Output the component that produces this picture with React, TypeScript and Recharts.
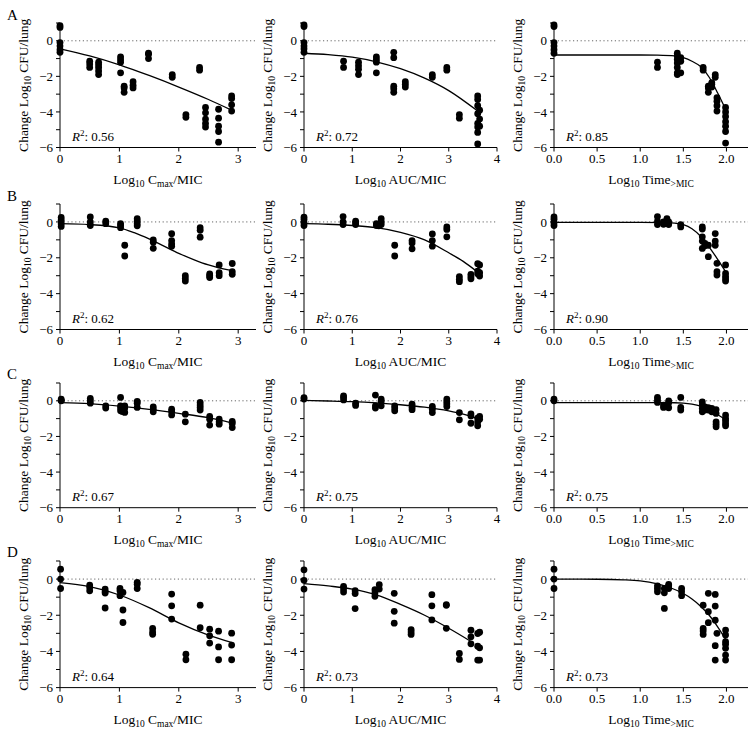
import {
    ComposedChart,
    Customized,
    Line,
    ReferenceLine,
    Scatter,
    XAxis,
    YAxis,
} from "recharts";

type Group = [number, number[]];
type Fit = [number, number][];

// ---- row A ----
const aCmaxDots: Group[] = [
    [0, [0.85, 0.75, -0.1, -0.3, -0.5, -0.65]],
    [0.5, [-1.15, -1.3, -1.5]],
    [0.65, [-1.2, -1.35, -1.5, -1.7, -1.9]],
    [1.02, [-0.9, -1.05, -1.2, -1.8]],
    [1.08, [-2.55, -2.65, -2.9]],
    [1.23, [-2.3, -2.5, -2.65]],
    [1.49, [-0.7, -0.75, -1.0]],
    [1.89, [-1.9, -2.05]],
    [2.12, [-4.15, -4.3]],
    [2.35, [-1.5, -1.65]],
    [2.45, [-3.75, -4.05, -4.4, -4.65, -4.85]],
    [2.67, [-3.85, -4.35, -4.8, -5.1, -5.7]],
    [2.89, [-3.1, -3.25, -3.6, -3.95]],
];
const aCmaxFit: Fit = [[0, -0.45], [0.5, -0.85], [1, -1.35], [1.5, -1.95], [2, -2.6], [2.5, -3.3], [2.89, -3.9]];

const aAucDots: Group[] = [
    [0, [0.9, 0.8, -0.1, -0.3, -0.45, -0.65]],
    [0.82, [-1.15, -1.5]],
    [1.13, [-1.2, -1.4, -1.6, -1.9]],
    [1.5, [-0.9, -1.05, -1.2, -1.8]],
    [1.86, [-0.65, -0.95, -2.55, -2.7, -2.9]],
    [2.1, [-2.3, -2.45, -2.6]],
    [2.66, [-1.9, -2.05]],
    [2.96, [-1.5, -1.65]],
    [3.22, [-4.15, -4.35]],
    [3.6, [-3.1, -3.3, -3.65, -4.1, -4.65, -4.85, -5.15, -5.8]],
    [3.64, [-3.9, -4.4, -4.8]],
];
const aAucFit: Fit = [[0, -0.7], [0.5, -0.78], [1, -0.92], [1.5, -1.18], [2, -1.57], [2.5, -2.1], [3, -2.8], [3.6, -3.95]];

const aTimeDots: Group[] = [
    [0, [0.9, 0.8, -0.1, -0.3, -0.5, -0.7]],
    [1.2, [-1.2, -1.5]],
    [1.43, [-0.7, -0.85, -1.05, -1.25, -1.5, -1.8, -1.9]],
    [1.47, [-0.95, -1.15, -1.8]],
    [1.73, [-1.5, -1.65]],
    [1.79, [-2.55, -2.65, -2.9]],
    [1.83, [-2.35, -2.45, -2.6]],
    [1.87, [-1.9, -2.05]],
    [1.89, [-3.2, -3.4, -3.65, -3.95]],
    [1.99, [-3.75, -4.0, -4.25, -4.55, -4.8, -5.1, -5.75]],
];
const aTimeFit: Fit = [[0, -0.8], [0.5, -0.8], [1, -0.8], [1.2, -0.81], [1.4, -0.85], [1.5, -0.95], [1.6, -1.15], [1.7, -1.45], [1.8, -2.05], [1.9, -2.95], [2.0, -3.95]];

// ---- row B ----
const bCmaxDots: Group[] = [
    [0.02, [0.25, 0.1, -0.1, -0.25]],
    [0.51, [0.28, 0, -0.2]],
    [0.77, [0.05, -0.1]],
    [1.02, [-0.1, -0.2, -0.32]],
    [1.09, [-1.3, -1.9]],
    [1.3, [0.18, 0.05, -0.1, -0.22]],
    [1.57, [-1.0, -1.13, -1.47]],
    [1.88, [-0.66, -1.04, -1.23, -1.36]],
    [2.11, [-3.0, -3.15, -3.3]],
    [2.36, [-0.32, -0.47, -0.85]],
    [2.52, [-2.9, -3.0, -3.1]],
    [2.68, [-2.4, -2.83, -3.0]],
    [2.9, [-2.32, -2.77, -2.92]],
];
const bCmaxFit: Fit = [[0, -0.1], [0.5, -0.15], [1, -0.33], [1.25, -0.6], [1.5, -0.95], [1.75, -1.35], [2, -1.75], [2.25, -2.1], [2.5, -2.4], [2.75, -2.62], [2.9, -2.72]];

const bAucDots: Group[] = [
    [0, [0.26, 0.13, -0.05, -0.2]],
    [0.81, [0.3, 0, -0.15]],
    [1.07, [0.04, -0.05, -0.15]],
    [1.5, [-0.1, -0.2]],
    [1.55, [-0.15, -0.22]],
    [1.6, [0.18, 0, -0.15]],
    [1.88, [-1.3, -1.9]],
    [2.24, [-1.04, -1.17, -1.5]],
    [2.66, [-0.67, -1.04, -1.35]],
    [2.96, [-0.28, -0.42, -0.83]],
    [3.22, [-3.05, -3.2, -3.33]],
    [3.46, [-2.92, -3.05, -3.17]],
    [3.6, [-2.33, -2.74, -2.89]],
    [3.64, [-2.4, -2.83, -3.02]],
];
const bAucFit: Fit = [[0, -0.1], [0.5, -0.13], [1, -0.2], [1.5, -0.32], [2, -0.58], [2.5, -1.0], [3, -1.72], [3.3, -2.2], [3.6, -2.8]];

const bTimeDots: Group[] = [
    [0, [0.28, 0.15, -0.04, -0.2]],
    [1.2, [0.3, 0.04, -0.15]],
    [1.27, [0, -0.13]],
    [1.31, [0.18, 0.04, -0.1]],
    [1.33, [0, -0.15]],
    [1.47, [-0.15, -0.28]],
    [1.72, [-0.28, -0.4, -0.83, -1.07, -1.48]],
    [1.75, [-1.2, -1.33]],
    [1.79, [-1.3, -1.94]],
    [1.87, [-0.65, -1.07, -1.3]],
    [1.89, [-2.31, -2.78, -2.96]],
    [1.99, [-2.4, -2.87, -3.05, -3.18, -3.3]],
];
const bTimeFit: Fit = [[0, -0.02], [1, -0.02], [1.3, -0.04], [1.4, -0.07], [1.5, -0.15], [1.6, -0.38], [1.7, -0.8], [1.8, -1.4], [1.9, -2.1], [2.0, -2.85]];

// ---- row C ----
const cCmaxDots: Group[] = [
    [0.02, [0.1, 0.03, 0]],
    [0.51, [0.13, 0, -0.13]],
    [0.77, [-0.28, -0.41]],
    [1.02, [0.19, -0.28, -0.41, -0.56]],
    [1.05, [-0.47, -0.6]],
    [1.09, [-0.28, -0.41, -0.65]],
    [1.3, [-0.04, -0.13, -0.37]],
    [1.57, [-0.34, -0.47, -0.62]],
    [1.88, [-0.47, -0.6, -0.79]],
    [2.11, [-0.75, -1.18]],
    [2.36, [-0.09, -0.24, -0.37, -0.52]],
    [2.52, [-0.88, -1.03, -1.36]],
    [2.68, [-1.03, -1.18, -1.31]],
    [2.9, [-1.16, -1.27, -1.5]],
];
const cCmaxFit: Fit = [[0, -0.1], [0.5, -0.16], [1, -0.3], [1.5, -0.48], [2, -0.7], [2.5, -0.95], [2.9, -1.25]];

const cAucDots: Group[] = [
    [0, [0.18, 0.1]],
    [0.82, [0.28, 0.18, 0.05]],
    [1.07, [-0.13, -0.26]],
    [1.48, [0.32, -0.28, -0.41]],
    [1.6, [0.1, -0.04, -0.28]],
    [1.88, [-0.28, -0.41, -0.56]],
    [2.24, [-0.19, -0.36, -0.5]],
    [2.66, [-0.32, -0.47, -0.66]],
    [2.96, [0.1, -0.04, -0.17, -0.32]],
    [3.22, [-0.66, -1.07]],
    [3.46, [-0.73, -0.85, -1.26]],
    [3.6, [-0.98, -1.17, -1.4]],
    [3.64, [-0.88, -1.04]],
];
const cAucFit: Fit = [[0, 0.02], [0.5, -0.01], [1, -0.05], [1.5, -0.12], [2, -0.22], [2.5, -0.36], [3, -0.57], [3.3, -0.75], [3.6, -1.0]];

const cTimeDots: Group[] = [
    [0, [0.1, 0]],
    [1.2, [0.19, 0.04, -0.09]],
    [1.27, [-0.24, -0.37]],
    [1.31, [-0.24, -0.34]],
    [1.33, [0, -0.11, -0.39]],
    [1.47, [0.19, -0.37, -0.52]],
    [1.72, [-0.06, -0.24, -0.43, -0.62]],
    [1.75, [-0.34, -0.52]],
    [1.79, [-0.39, -0.52]],
    [1.83, [-0.43, -0.62]],
    [1.88, [-0.49, -0.71, -1.18, -1.31, -1.46]],
    [1.99, [-0.8, -0.99, -1.12, -1.27, -1.4]],
];
const cTimeFit: Fit = [[0, -0.1], [1, -0.1], [1.4, -0.11], [1.5, -0.13], [1.6, -0.19], [1.7, -0.3], [1.8, -0.5], [1.9, -0.78], [2.0, -1.1]];

// ---- row D ----
const dCmaxDots: Group[] = [
    [0.01, [0.55, 0, -0.52]],
    [0.5, [-0.33, -0.46, -0.65]],
    [0.76, [-0.55, -0.7, -0.77, -1.6]],
    [1.01, [-0.52, -0.65, -0.92]],
    [1.06, [-0.74, -1.71, -2.4]],
    [1.3, [-0.18, -0.28, -0.52]],
    [1.56, [-2.73, -2.92, -3.05]],
    [1.88, [-0.83, -1.48, -2.21]],
    [2.12, [-4.15, -4.46]],
    [2.36, [-1.44, -2.69]],
    [2.52, [-2.77, -3.14, -3.54]],
    [2.67, [-2.88, -3.75, -4.46]],
    [2.89, [-2.99, -3.65, -4.46]],
];
const dCmaxFit: Fit = [[0, -0.2], [0.5, -0.42], [1, -0.88], [1.5, -1.58], [2, -2.42], [2.5, -3.1], [2.9, -3.52]];

const dAucDots: Group[] = [
    [0, [0.51, -0.07, -0.55]],
    [0.82, [-0.4, -0.55, -0.72]],
    [1.06, [-0.64, -0.8, -1.63]],
    [1.47, [-0.59, -0.77, -0.95]],
    [1.56, [-0.31, -0.55]],
    [1.87, [-0.79, -1.78, -2.44]],
    [2.22, [-2.79, -2.92, -3.06]],
    [2.65, [-0.86, -1.48, -2.26]],
    [2.95, [-1.41, -1.45, -2.72]],
    [3.22, [-4.11, -4.44]],
    [3.46, [-2.83, -3.19, -3.58]],
    [3.6, [-3.01, -3.71, -4.48]],
    [3.64, [-2.94, -3.8, -4.48]],
];
const dAucFit: Fit = [[0, -0.25], [0.5, -0.38], [1, -0.55], [1.5, -0.87], [2, -1.4], [2.5, -2.0], [3, -2.72], [3.46, -3.45]];

const dTimeDots: Group[] = [
    [0, [0.55, 0, -0.52]],
    [1.2, [-0.37, -0.52, -0.7]],
    [1.28, [-0.52, -0.76, -1.62]],
    [1.33, [-0.3, -0.37, -0.52]],
    [1.48, [-0.52, -0.7, -0.92]],
    [1.73, [-1.44, -2.73, -2.87, -3.06]],
    [1.79, [-0.79, -1.8, -2.41]],
    [1.87, [-0.85, -1.49, -2.27, -3.68, -4.48]],
    [1.89, [-3.0]],
    [1.99, [-2.82, -3.09, -3.46, -3.6, -3.83, -4.2, -4.48]],
];
const dTimeFit: Fit = [[0, 0], [0.5, -0.01], [0.8, -0.04], [1, -0.1], [1.2, -0.27], [1.35, -0.48], [1.5, -0.8], [1.6, -1.1], [1.7, -1.5], [1.8, -2.0], [1.9, -2.65], [2.0, -3.4]];

const rowLetters = ["A", "B", "C", "D"];
const r2Values = [
    ["0.56", "0.72", "0.85"],
    ["0.62", "0.76", "0.90"],
    ["0.67", "0.75", "0.75"],
    ["0.64", "0.73", "0.73"],
];
const yTicks = [-6, -5, -4, -3, -2, -1, 0, 1];
const cmaxTicks = [0, 1, 2, 3];
const aucTicks = [0, 1, 2, 3, 4];
const timeTicks = [0, 0.5, 1, 1.5, 2];

const FONT = "'Liberation Serif', 'DejaVu Serif', serif";

// plot-area placement on the page
const COLS = [
    { left: 60, right: 256, domain: [0, 3.3], ticks: cmaxTicks, fmt: (v: number) => String(v), kind: "cmax" },
    { left: 304, right: 497, domain: [0, 4], ticks: aucTicks, fmt: (v: number) => String(v), kind: "auc" },
    { left: 554, right: 748, domain: [0, 2.25], ticks: timeTicks, fmt: (v: number) => v.toFixed(1), kind: "time" },
];
const ROWS = [
    { top: 22.5, bottom: 147 },
    { top: 204, bottom: 329.5 },
    { top: 383, bottom: 507.7 },
    { top: 561, bottom: 687.6 },
];

const grid = [
    [aCmaxDots, aCmaxFit, aAucDots, aAucFit, aTimeDots, aTimeFit],
    [bCmaxDots, bCmaxFit, bAucDots, bAucFit, bTimeDots, bTimeFit],
    [cCmaxDots, cCmaxFit, cAucDots, cAucFit, cTimeDots, cTimeFit],
    [dCmaxDots, dCmaxFit, dAucDots, dAucFit, dTimeDots, dTimeFit],
];

const toPts = (g: Group[]) => g.flatMap(([x, ys]) => ys.map((y) => ({ x, y })));
const toLine = (f: Fit) => f.map(([x, y]) => ({ x, y }));

const yFmt = (v: number) => (v % 2 === 0 ? (v < 0 ? "\u2212" + Math.abs(v) : String(v)) : "");

const Dot = (p: any) => <circle cx={p.cx} cy={p.cy} r={3.4} fill="#000" />;

const XTitle = ({ kind }: { kind: string }) => {
    const sub = { dy: 3.5, fontSize: 9.5 };
    if (kind === "cmax")
        return (
            <>
                <tspan>Log</tspan>
                <tspan {...sub}>10</tspan>
                <tspan dy={-3.5}> C</tspan>
                <tspan {...sub}>max</tspan>
                <tspan dy={-3.5}>/MIC</tspan>
            </>
        );
    if (kind === "auc")
        return (
            <>
                <tspan>Log</tspan>
                <tspan {...sub}>10</tspan>
                <tspan dy={-3.5}> AUC/MIC</tspan>
            </>
        );
    return (
        <>
            <tspan>Log</tspan>
            <tspan {...sub}>10</tspan>
            <tspan dy={-3.5}> Time</tspan>
            <tspan {...sub}>&gt;MIC</tspan>
        </>
    );
};

const Panel = ({ row, col }: { row: number; col: number }) => {
    const c = COLS[col];
    const r = ROWS[row];
    const yAxisW = 56;
    const mTop = 20;
    const mRight = 4;
    const xAxisH = 46;
    const plotW = c.right - c.left;
    const plotH = r.bottom - r.top;
    const chartLeft = c.left - yAxisW;
    const chartTop = r.top - mTop;
    const dots = toPts(grid[row][col * 2] as Group[]);
    const fit = toLine(grid[row][col * 2 + 1] as Fit);

    const texts = () => (
        <g fontFamily={FONT} fill="#000">
            {col === 0 && (
                <text x={7 - chartLeft} y={mTop - 3.5} fontSize={15}>
                    {rowLetters[row]}
                </text>
            )}
            <text
                transform={`translate(${yAxisW - 32.5}, ${mTop + plotH / 2}) rotate(-90)`}
                textAnchor="middle"
                fontSize={13.5}
            >
                <tspan>Change Log</tspan>
                <tspan dy={3.5} fontSize={9.5}>10</tspan>
                <tspan dy={-3.5}> CFU/lung</tspan>
            </text>
            <text x={yAxisW + plotW / 2} y={mTop + plotH + 36} textAnchor="middle" fontSize={13.5}>
                <XTitle kind={c.kind} />
            </text>
            <text x={yAxisW + 12} y={mTop + plotH - 6.5} fontSize={13}>
                <tspan fontStyle="italic">R</tspan>
                <tspan dy={-5} fontSize={9}>2</tspan>
                <tspan dy={5}>: {r2Values[row][col]}</tspan>
            </text>
        </g>
    );

    return (
        <div style={{ position: "absolute", left: chartLeft, top: chartTop, fontFamily: FONT }}>
            <ComposedChart
                width={yAxisW + plotW + mRight}
                height={mTop + plotH + xAxisH}
                margin={{ top: mTop, right: mRight, bottom: 0, left: 0 }}
                style={{ fontFamily: FONT, overflow: "visible" }}
            >
                <XAxis
                    type="number"
                    dataKey="x"
                    domain={c.domain}
                    ticks={c.ticks}
                    tickFormatter={c.fmt}
                    height={xAxisH}
                    stroke="#000"
                    tickSize={4}
                    tickMargin={2}
                    tick={{ fill: "#000", fontSize: 13, fontFamily: FONT }}
                />
                <YAxis
                    type="number"
                    dataKey="y"
                    domain={[-6, 1]}
                    ticks={yTicks}
                    tickFormatter={yFmt}
                    interval={0}
                    width={yAxisW}
                    stroke="#000"
                    tickSize={4}
                    tickMargin={3}
                    tick={{ fill: "#000", fontSize: 13, fontFamily: FONT }}
                />
                <ReferenceLine y={0} stroke="#666" strokeDasharray="1.2 2.6" />
                <Scatter data={dots} shape={Dot} isAnimationActive={false} />
                <Line
                    data={fit}
                    dataKey="y"
                    type="monotone"
                    dot={false}
                    stroke="#000"
                    strokeWidth={1.3}
                    isAnimationActive={false}
                />
                <Customized component={texts} />
            </ComposedChart>
        </div>
    );
}

export default function App() {
    return (
        <div style={{ position: "absolute", left: 0, top: 0, width: 752, height: 734, background: "#fff" }}>
            {ROWS.map((_, row) => COLS.map((_, col) => <Panel key={`${row}-${col}`} row={row} col={col} />))}
        </div>
    );
}
